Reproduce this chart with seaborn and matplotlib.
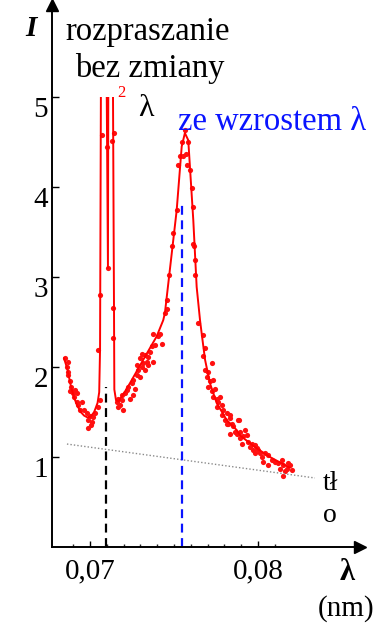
import numpy as np
import pandas as pd
import seaborn as sns
import matplotlib.pyplot as plt
from matplotlib.patches import Rectangle

# measured points (wavelength in nm, intensity in a.u.)
lam_pts = [
    0.06851, 0.06867, 0.06861, 0.06867, 0.06871, 0.06881, 0.06887, 0.06891, 0.06881, 0.06911,
    0.06921, 0.06901, 0.06907, 0.06921, 0.06951, 0.06930, 0.06940, 0.06966, 0.06980, 0.07000,
    0.06990, 0.07010, 0.07006, 0.06990, 0.07020, 0.07030, 0.07046, 0.07060, 0.07049,
    0.07071, 0.07101, 0.07131, 0.07143, 0.07107, 0.07060, 0.07137, 0.07137,
    0.07159, 0.07168, 0.07189, 0.07208, 0.07218, 0.07228, 0.07179, 0.07198, 0.07168, 0.07189,
    0.07238, 0.07258, 0.07248, 0.07268, 0.07258, 0.07278, 0.07288, 0.07298, 0.07308, 0.07317,
    0.07327, 0.07337, 0.07347, 0.07357, 0.07377, 0.07367, 0.07387, 0.07407, 0.07417, 0.07377,
    0.07427, 0.07446, 0.07460, 0.07308, 0.07327, 0.07298, 0.07278, 0.07347,
    0.07565, 0.07546, 0.07585, 0.07536, 0.07555, 0.07571, 0.07526, 0.07576, 0.07595, 0.07605,
    0.07615, 0.07516, 0.07496, 0.07486, 0.07615, 0.07619, 0.07625, 0.07472, 0.07625, 0.07457,
    0.07645, 0.07671, 0.07685, 0.07671, 0.07724, 0.07685, 0.07704, 0.07695, 0.07714, 0.07730,
    0.07704, 0.07744, 0.07724, 0.07734, 0.07754, 0.07774, 0.07764, 0.07784, 0.07754, 0.07793,
    0.07814, 0.07784, 0.07833, 0.07804, 0.07823, 0.07843, 0.07889, 0.07853,
    0.07833, 0.07814, 0.07883, 0.07863, 0.07833, 0.07873, 0.07893, 0.07912, 0.07893, 0.07923,
    0.07933, 0.07903, 0.07942, 0.07962, 0.07982, 0.07952, 0.07992, 0.07972, 0.08002, 0.08012,
    0.07982, 0.08042, 0.08061, 0.08022, 0.08032, 0.08082, 0.08101, 0.08061, 0.08121, 0.08141,
    0.08151, 0.08131, 0.08171, 0.08190, 0.08200, 0.08161, 0.08151, 0.08180,
]
int_pts = [
    2.10, 2.06, 2.00, 1.95, 1.91, 1.84, 1.78, 1.73, 1.73, 1.74,
    1.71, 1.71, 1.67, 1.61, 1.61, 1.58, 1.52, 1.52, 1.49, 1.46,
    1.41, 1.39, 1.36, 1.32, 1.45, 1.49, 1.56, 1.63, 2.19,
    4.58, 4.44, 4.51, 4.60, 3.10, 2.80, 2.66, 2.32,
    1.61, 1.65, 1.69, 1.71, 1.74, 1.78, 1.58, 1.52, 1.56, 1.63,
    1.65, 1.69, 1.82, 1.76, 1.86, 1.91, 1.97, 1.89, 2.00, 2.04,
    1.97, 2.06, 2.11, 2.17, 2.06, 2.23, 2.24, 2.34, 2.37, 2.37,
    2.26, 2.60, 2.64, 2.15, 2.13, 2.10, 2.02, 2.02,
    4.63, 4.50, 4.50, 4.34, 4.34, 4.37, 4.24, 4.24, 4.19, 3.99,
    3.78, 3.74, 3.49, 3.34, 3.37, 3.34, 3.19, 3.02, 3.02, 2.74,
    2.49, 2.36, 2.21, 2.12, 2.05, 1.97, 1.95, 1.89, 1.84, 1.86,
    1.78, 1.76, 1.73, 1.67, 1.65, 1.67, 1.61, 1.58, 1.56, 1.52,
    1.49, 1.47, 1.47, 1.41, 1.37, 1.37, 1.41, 1.34,
    1.43, 1.37, 1.41, 1.28, 1.26, 1.26, 1.28, 1.23, 1.21, 1.30,
    1.24, 1.15, 1.17, 1.15, 1.13, 1.11, 1.10, 1.08, 1.08, 1.04,
    1.04, 1.04, 1.02, 1.00, 0.95, 0.97, 0.95, 0.91, 0.93, 0.97,
    0.91, 0.87, 0.87, 0.91, 0.86, 0.84, 0.79, 0.93,
]

# fitted curve (goes far above the frame at the unshifted line)
lam_fit = [0.06845, 0.06865, 0.06885, 0.06905, 0.06925, 0.06945, 0.06965, 0.06985, 0.07005,
           0.07025, 0.07045, 0.07055, 0.07060, 0.07072, 0.07085, 0.07107, 0.07113, 0.07127,
           0.07143, 0.07145, 0.07155, 0.07170, 0.07200, 0.07238, 0.07317, 0.07397, 0.07436,
           0.07446, 0.07516, 0.07546, 0.07565, 0.07585, 0.07615, 0.07635, 0.07655, 0.07665,
           0.07685, 0.07714, 0.07754, 0.07814, 0.07873, 0.07893, 0.07982, 0.08071, 0.08190]
int_fit = [2.10, 1.98, 1.80, 1.66, 1.57, 1.50, 1.46, 1.44, 1.45,
           1.50, 1.60, 1.72, 2.20, 9.00, 9.00, 3.10, 9.00, 9.00,
           2.66, 1.75, 1.63, 1.62, 1.70, 1.82, 2.08, 2.34, 2.52,
           2.60, 3.74, 4.45, 4.60, 4.52, 3.63, 2.89, 2.52, 2.37,
           2.08, 1.82, 1.60, 1.41, 1.30, 1.24, 1.11, 1.00, 0.88]

lam_bg = [0.06863, 0.08339]
int_bg = [1.144, 0.767]

lam_unshifted = 0.07097
lam_shifted = 0.07549
top_unshifted = 1.78
top_shifted = 3.82

y_ticks = [1, 2, 3, 4, 5]
x_ticks = [0.07, 0.08]
x_ticklabels = ["0,07", "0,08"]
x_minor = [0.069, 0.071, 0.072, 0.073, 0.074, 0.075, 0.076, 0.077, 0.078, 0.079, 0.081]

sns.set_theme(style="white")
plt.rcParams['font.family'] = ['Liberation Serif', 'DejaVu Serif']

W, H = 383, 627
fig = plt.figure(figsize=(W / 100, H / 100), dpi=100)
ax = fig.add_axes([52 / W, (H - 547) / H, (360 - 52) / W, (547 - 5) / H])

pts = pd.DataFrame({'lam': lam_pts, 'I': int_pts})
fit = pd.DataFrame({'lam': lam_fit, 'I': int_fit})

sns.lineplot(data=fit, x='lam', y='I', sort=False, estimator=None, color='#ff0000',
             linewidth=1.4, ax=ax)
clip = Rectangle((0.06, -1), 0.05, 6.0, transform=ax.transData)
ax.lines[-1].set_clip_path(clip)
sns.scatterplot(data=pts, x='lam', y='I', color='#ff1010', s=14, linewidth=0, ax=ax)

ax.plot(lam_bg, int_bg, linestyle=(0, (1, 1.5)), color='#8a8a8a', linewidth=1.0)
ax.plot([lam_unshifted, lam_unshifted], [0, top_unshifted], color='black',
        linestyle=(0, (4, 2.5)), linewidth=1.6)
ax.plot([lam_shifted, lam_shifted], [0, top_shifted], color='#0a14ff',
        linestyle=(0, (4, 2.5)), linewidth=1.6)

ax.set_xlim(0.06774, 0.07 + (360 - 90) / 16800)
ax.set_ylim(0, (547 - 5) / 90)
ax.set_xlabel('')
ax.set_ylabel('')

for side in ['top', 'right']:
    ax.spines[side].set_visible(False)
for side in ['left', 'bottom']:
    ax.spines[side].set_color('black')
    ax.spines[side].set_linewidth(1.4)

ax.set_yticks(y_ticks)
ax.set_yticklabels([str(v) for v in y_ticks], fontsize=21, va='top')
ax.set_xticks(x_ticks)
ax.set_xticklabels(x_ticklabels, fontsize=21)
ax.set_xticks(x_minor, minor=True)
ax.tick_params(axis='y', direction='in', length=5, width=1, pad=3, colors='black',
               left=True)
ax.tick_params(axis='x', which='major', direction='in', length=4, width=1, pad=8,
               colors='black', bottom=True)
ax.tick_params(axis='x', which='minor', direction='in', length=2, width=1, bottom=True)

# arrow heads
ax.plot(1, 0, '>', color='black', markersize=9, transform=ax.transAxes, clip_on=False)
ax.plot(0, 1, '^', color='black', markersize=9, transform=ax.transAxes, clip_on=False)


def put(x, y, s, **kw):
    fig.text(x / W, 1 - y / H, s, va='baseline', ha='left', **kw)


put(25, 36, 'I', fontsize=21, fontweight='bold', fontstyle='italic', color='black')
put(65, 40, 'rozpraszanie', fontsize=23.5, color='black')
put(75, 77, 'bez zmiany', fontsize=23.5, color='black')
put(117, 97, '2', fontsize=12, color='#ff0000')
put(138, 116, 'λ', fontsize=23, color='black')
put(178, 130, 'ze wzrostem λ', fontsize=23.5, color='#0a14ff')
put(323, 490, 'tł', fontsize=20, color='black')
put(323, 522, 'o', fontsize=20, color='black')
put(340, 580, 'λ', fontsize=22, fontweight='bold', color='black')
put(318, 616, '(nm)', fontsize=21, color='black')

fig.savefig('out.png', dpi=100)
